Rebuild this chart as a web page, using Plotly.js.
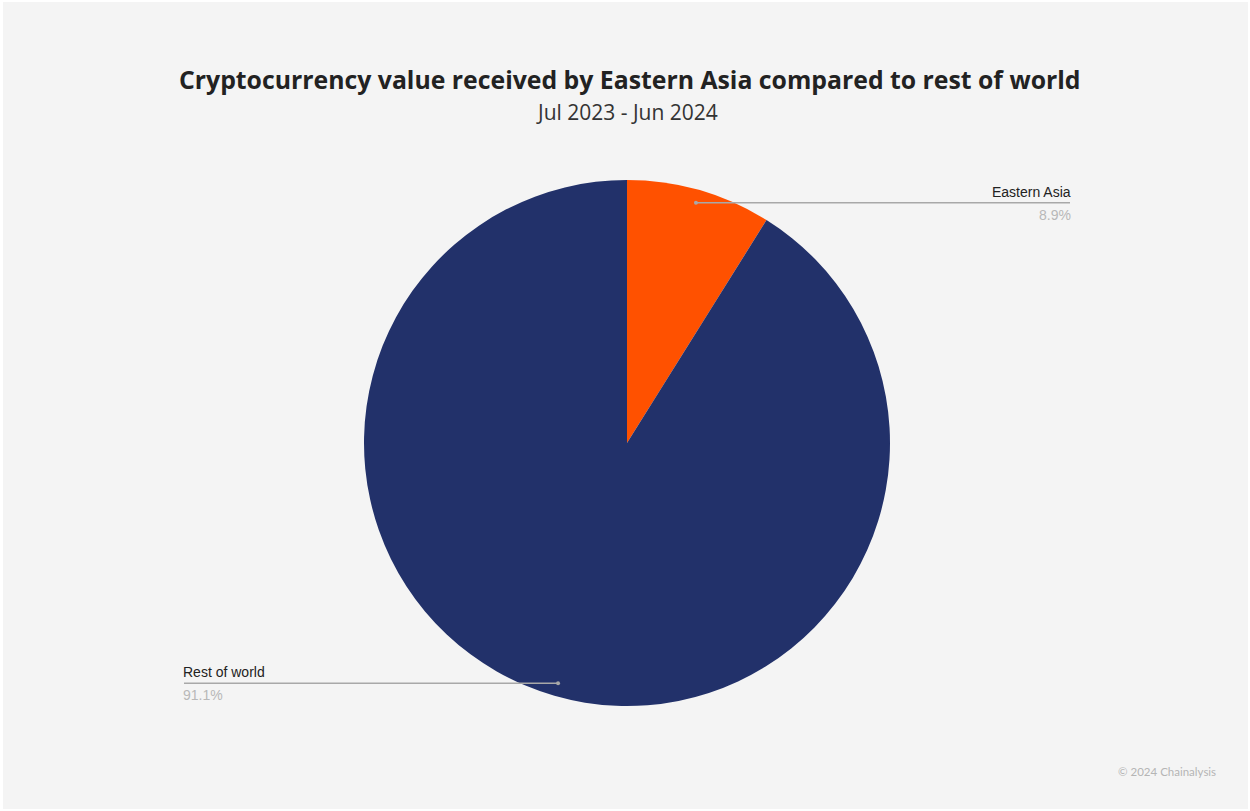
<!DOCTYPE html>
<html>
<head>
<meta charset="utf-8">
<script src="https://cdn.plot.ly/plotly-3.0.1.min.js"></script>
<style>
  html, body { margin: 0; padding: 0; background: #ffffff; width: 1250px; height: 811px; overflow: hidden; }
  #chart { position: absolute; left: 3px; top: 2px; width: 1245px; height: 807px; }
</style>
</head>
<body>
<div id="chart"></div>
<script>
// Data
const categories = ["Eastern Asia", "Rest of world"];
const shares = [8.9, 91.1];
const sliceColors = ["#ff5100", "#22316a"];
const titleText = "Cryptocurrency value received by Eastern Asia compared to rest of world";
const subtitleText = "Jul 2023 - Jun 2024";
const creditText = "© 2024 Chainalysis";

// Layout geometry (image pixel coordinates)
const W = 1245, H = 807, OX = 3, OY = 2;
const cx = 627, cy = 443, R = 263;
const px = x => (x - OX) / W;
const py = y => 1 - (y - OY) / H;

const shapes = [];
const annotations = [];
const total = shares.reduce((a, b) => a + b, 0);
let cum = 0;
const rightEnd = 1070, leftEnd = 184;
const labelFont = "Liberation Sans, Arial, sans-serif";
shares.forEach((v, i) => {
  const mid = (cum + v / 2) / total * 2 * Math.PI; // clockwise from top
  cum += v;
  const dx = cx + 0.95 * R * Math.sin(mid);
  const dy = cy - 0.95 * R * Math.cos(mid);
  const right = Math.sin(mid) >= 0;
  const endX = right ? rightEnd : leftEnd;
  const txtX = right ? endX + 3 : endX - 3;
  shapes.push({type: "line", xref: "paper", yref: "paper",
    x0: px(dx), y0: py(dy), x1: px(endX), y1: py(dy),
    line: {color: "#a8a8a8", width: 1.5}});
  shapes.push({type: "circle", xref: "paper", yref: "paper",
    x0: px(dx - 2), y0: py(dy - 2), x1: px(dx + 2), y1: py(dy + 2),
    fillcolor: "#a8a8a8", line: {width: 0}});
  annotations.push({xref: "paper", yref: "paper", x: px(txtX), y: py(dy - 1),
    xanchor: right ? "right" : "left", yanchor: "bottom", showarrow: false,
    text: categories[i], font: {family: labelFont, size: 14, color: "#222222"}});
  annotations.push({xref: "paper", yref: "paper", x: px(txtX), y: py(dy + 2),
    xanchor: right ? "right" : "left", yanchor: "top", showarrow: false,
    text: v.toFixed(1) + "%", font: {family: labelFont, size: 14, color: "#b8b8b8"}});
});

annotations.push({xref: "paper", yref: "paper", x: px(630), y: py(79), xanchor: "center", yanchor: "middle",
  showarrow: false, text: "<b>" + titleText + "</b>",
  font: {family: "Open Sans, sans-serif", size: 24.8, color: "#222222"}});
annotations.push({xref: "paper", yref: "paper", x: px(627), y: py(112), xanchor: "center", yanchor: "middle",
  showarrow: false, text: subtitleText,
  font: {family: "Open Sans, sans-serif", size: 21, color: "#333333"}});
annotations.push({xref: "paper", yref: "paper", x: px(1218), y: py(771), xanchor: "right", yanchor: "middle",
  showarrow: false, text: creditText,
  font: {family: "Lato, sans-serif", size: 11.5, color: "#b5b5b5"}});

const data = [{
  type: "pie",
  labels: categories,
  values: shares,
  marker: {colors: sliceColors, line: {width: 0}},
  sort: false,
  direction: "clockwise",
  rotation: 0,
  textinfo: "none",
  hoverinfo: "label+percent",
  showlegend: false,
  domain: {x: [px(cx - R), px(cx + R)], y: [py(cy + R), py(cy - R)]}
}];

const layout = {
  width: W, height: H,
  margin: {l: 0, r: 0, t: 0, b: 0},
  paper_bgcolor: "#f4f4f4",
  plot_bgcolor: "#f4f4f4",
  showlegend: false,
  shapes: shapes,
  annotations: annotations
};

Plotly.newPlot("chart", data, layout, {displayModeBar: false, staticPlot: true});
</script>
</body>
</html>
